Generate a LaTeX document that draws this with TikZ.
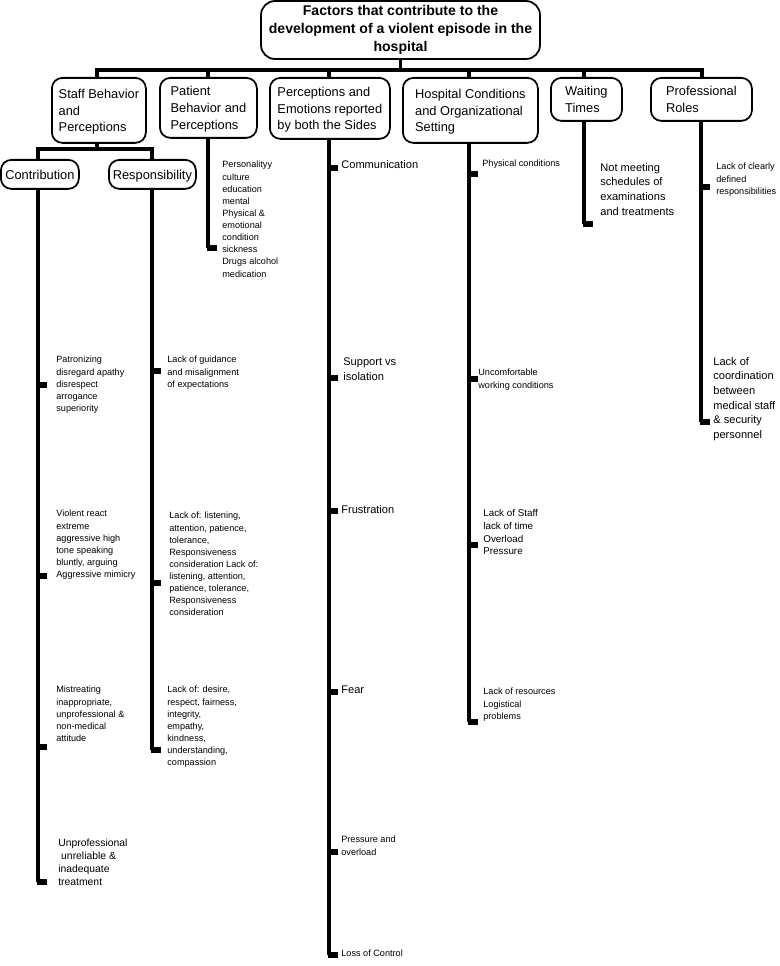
\documentclass[tikz,border=0pt]{standalone}
\usepackage{fontspec}
\setmainfont{Liberation Sans}
\begin{document}
\begin{tikzpicture}[x=0.02cm,y=-0.02cm,
  box/.style={draw,line width=1pt,rounded corners=6pt,inner sep=2pt,font=\fontsize{7.3}{9.6}\selectfont,align=left,anchor=north west,text depth=0pt},
  branch/.style={line width=2pt},
  tick/.style={line width=3.5pt},
  leaf/.style={anchor=north west,inner sep=0pt,align=left,font=\fontsize{5.2}{6.9}\selectfont},
  bigleaf/.style={leaf,font=\fontsize{6.3}{8.6}\selectfont}]
\useasboundingbox (0,0) rectangle (779,966);
% root and first level
\node[draw,line width=1pt,rounded corners=8pt,minimum width=279*0.02cm,minimum height=58*0.02cm,align=center,inner sep=1pt,
  font=\bfseries\fontsize{8}{10.3}\selectfont] (root) at (400.5,30) {Factors that contribute to the\\development of a violent episode in the\\hospital};
\node[box,minimum width=94*0.02cm,minimum height=65*0.02cm] (staff) at (51,77) {Staff Behavior\\and\\Perceptions};
\node[box,minimum width=97*0.02cm,minimum height=60*0.02cm] (patient) at (159,77) {Patient\\Behavior and\\Perceptions};
\node[box,minimum width=120*0.02cm,minimum height=61*0.02cm] (emotion) at (269,77) {Perceptions and\\Emotions reported\\by both the Sides};
\node[box,minimum width=135*0.02cm,minimum height=65*0.02cm] (hosp) at (402,77) {Hospital Conditions\\and Organizational\\Setting};
\node[box,minimum width=71*0.02cm,minimum height=43*0.02cm] (wait) at (550,77) {Waiting\\Times};
\node[box,minimum width=101*0.02cm,minimum height=43*0.02cm] (prof) at (650,77) {Professional\\Roles};
\draw[branch] (root.south) -- (400.5,70) coordinate (bar);
\draw[branch] (staff.north -| 97,0) -- (97,70) -- (702,70) -- (prof.north -| 702,0);
\foreach \n/\x in {patient/208,emotion/329,hosp/469,wait/584}
  \draw[branch] (\x,70) -- (\n.north -| \x,0);
% staff sub level
\node[box,minimum width=78*0.02cm,minimum height=29*0.02cm] (contrib) at (0,159) {Contribution};
\node[box,minimum width=87*0.02cm,minimum height=29*0.02cm] (resp) at (108,159) {Responsibility};
\draw[branch] (staff.south -| 97,0) -- (97,149);
\draw[branch] (contrib.north -| 38,0) -- (38,149) -- (152,149) -- (resp.north -| 152,0);
% spines
\draw[branch] (contrib.south -| 38,0) -- (38,882) coordinate (c4);
\draw[branch] (resp.south -| 152,0) -- (152,750) coordinate (r3);
\draw[branch] (patient.south -| 208,0) -- (208,248) coordinate (p1);
\draw[branch] (emotion.south -| 329,0) -- (329,955) coordinate (e6);
\draw[branch] (hosp.south -| 469,0) -- (469,722) coordinate (h4);
\draw[branch] (wait.south -| 584,0) -- (584,224) coordinate (w1);
\draw[branch] (prof.south -| 701,0) -- (701,422) coordinate (f2);
% ticks
\foreach \x/\y in {38/385,38/576,38/747,38/882,152/371,152/583,152/750,208/248,
  329/168,329/378,329/511,329/692,329/852,329/955,469/174,469/379,469/545,469/722,
  584/224,701/187,701/422}
  \draw[tick] (\x-1,\y) -- ++(10,0);
% leaves
\node[leaf] (l1) at (222,161) {Personalityy\\culture\\education\\mental\\Physical \&\\emotional\\condition\\sickness\\Drugs alcohol\\medication};
\node[bigleaf] (l2) at (341,160) {Communication};
\node[leaf] (l3) at (482,160) {Physical conditions};
\node[bigleaf,font=\fontsize{6.3}{8.3}\selectfont] (l4) at (600,163) {Not meeting\\schedules of\\examinations\\and treatments};
\node[leaf] (l5) at (716,163) {Lack of clearly\\defined\\responsibilities};
\node[bigleaf,font=\fontsize{6.3}{8.3}\selectfont] (l6) at (713,357) {Lack of\\coordination\\between\\medical staff\\\& security\\personnel};
\node[bigleaf] (l7) at (343,357) {Support vs\\isolation};
\node[leaf] (l8) at (478,369) {Uncomfortable\\working conditions};
\node[bigleaf] (l9) at (341,505) {Frustration};
\node[leaf,font=\fontsize{5.6}{7.3}\selectfont] (l10) at (483,509) {Lack of Staff\\lack of time\\Overload\\Pressure};
\node[bigleaf] (l11) at (341,686) {Fear};
\node[leaf] (l12) at (483,688) {Lack of resources\\Logistical\\problems};
\node[leaf] (l13) at (341,836) {Pressure and\\overload};
\node[leaf] (l14) at (341,950) {Loss of Control};
\node[leaf] (l15) at (56,356) {Patronizing\\disregard apathy\\disrespect\\arrogance\\superiority};
\node[leaf] (l16) at (56,510) {Violent react\\extreme\\aggressive high\\tone speaking\\bluntly, arguing\\Aggressive mimicry};
\node[leaf] (l17) at (56,686) {Mistreating\\inappropriate,\\unprofessional \&\\non-medical\\attitude};
\node[leaf,font=\fontsize{5.9}{7.3}\selectfont] (l18) at (58,839) {Unprofessional\\\ unreliable \&\\inadequate\\treatment};
\node[leaf] (l19) at (167,356) {Lack of guidance\\and misalignment\\of expectations};
\node[leaf] (l20) at (169,512) {Lack of: listening,\\attention, patience,\\tolerance,\\Responsiveness\\consideration Lack of:\\listening, attention,\\patience, tolerance,\\Responsiveness\\consideration};
\node[leaf] (l21) at (167,686) {Lack of: desire,\\respect, fairness,\\integrity,\\empathy,\\kindness,\\understanding,\\compassion};
\end{tikzpicture}
\end{document}
